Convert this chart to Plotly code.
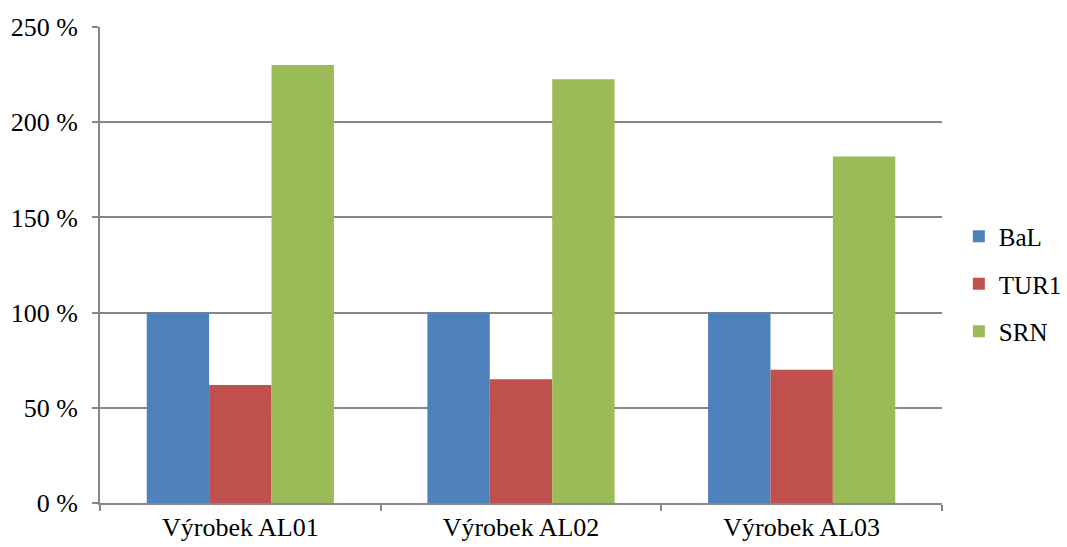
import plotly.graph_objects as go

categories = ["Výrobek AL01", "Výrobek AL02", "Výrobek AL03"]
bal = [100, 100, 100]
tur1 = [62, 65, 70]
srn = [230, 222.5, 182]

series = [
    ("BaL", bal, "#4F81BD"),
    ("TUR1", tur1, "#C0504D"),
    ("SRN", srn, "#9BBB59"),
]

font = dict(family="Liberation Serif", size=26, color="#000000")
legend_font = dict(family="Liberation Serif", size=25, color="#000000")

fig = go.Figure()
for name, vals, color in series:
    fig.add_trace(go.Bar(
        x=categories, y=vals, name=name, legendgroup=name,
        marker=dict(color=color, line=dict(width=0)),
    ))

fig.update_layout(
    width=1067, height=547,
    margin=dict(l=100, r=125, t=27, b=44, autoexpand=False),
    paper_bgcolor="white", plot_bgcolor="white",
    font=font,
    barmode="group", bargap=0.333, bargroupgap=0,
    showlegend=True,
    legend=dict(
        x=1.02, y=0.46, xanchor="left", yanchor="middle",
        font=legend_font, tracegroupgap=12, itemwidth=30,
        bgcolor="rgba(0,0,0,0)",
    ),
    xaxis=dict(
        showline=True, linecolor="#868686", linewidth=2,
        ticks="outside", tickson="boundaries", ticklen=6, tickwidth=1.5,
        tickcolor="#868686", showgrid=False, tickfont=font,
    ),
    yaxis=dict(
        range=[0, 250], dtick=50, ticksuffix=" %",
        showline=True, linecolor="#868686", linewidth=2,
        ticks="outside", ticklen=6, tickwidth=1.5, tickcolor="#868686",
        showgrid=True, gridcolor="#868686", gridwidth=1.5,
        zeroline=False, tickfont=font, ticklabelstandoff=9,
    ),
)

fig.write_html("out.html")
